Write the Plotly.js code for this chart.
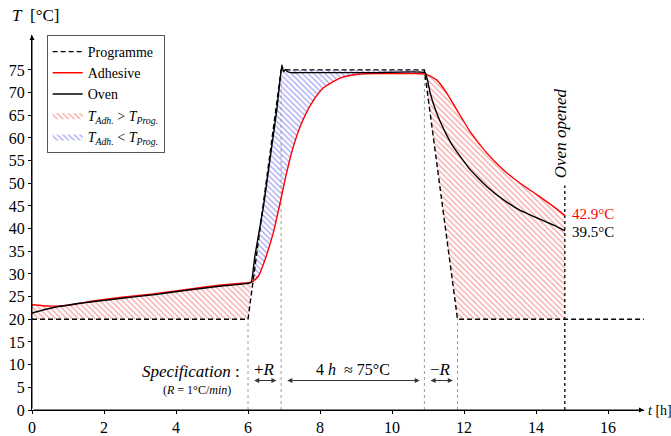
<!DOCTYPE html>
<html>
<head>
<meta charset="utf-8">
<script src="https://cdn.plot.ly/plotly-3.0.1.min.js"></script>
<style>html,body{margin:0;padding:0;background:#fff}#chart{width:671px;height:436px}</style>
</head>
<body>
<div id="chart"></div>
<script>
// ---- data ----
const progT = [0, 6, 6.92, 10.9, 11.82, 17];
const progV = [20, 20, 75, 75, 20, 20];

const adhT = [0, 0.3, 0.6, 1.0, 1.5, 2.44, 3.36, 4.3, 5.2, 6.0, 6.1, 6.29, 6.47, 6.7, 6.89, 7.07, 7.26, 7.49, 7.77, 8.09, 8.56, 9.11, 9.67, 10.3, 10.92, 11.24, 11.52, 11.8, 12.17, 12.63, 13.09, 13.56, 14.02, 14.48, 14.8];
const adhV = [23.2, 23.0, 22.9, 23.1, 23.8, 24.8, 25.6, 26.6, 27.5, 28.1, 28.2, 29.5, 33.1, 39.0, 45.6, 52.2, 58.1, 63.3, 67.7, 71.0, 73.2, 74.1, 74.2, 74.2, 74.1, 72.8, 69.9, 66.2, 61.4, 56.7, 53.0, 50.0, 47.5, 44.9, 42.9];

const ovenT = [0, 0.6, 1.5, 2.44, 3.36, 4.3, 5.2, 6.05, 6.1, 6.19, 6.43, 6.61, 6.8, 6.94, 6.99, 7.04, 7.1, 7.2, 7.5, 8.5, 9.5, 10.92, 11.06, 11.24, 11.47, 11.7, 12.17, 12.63, 13.09, 13.56, 14.02, 14.48, 14.8];
const ovenV = [21.4, 22.6, 23.7, 24.6, 25.4, 26.4, 27.3, 28.0, 28.4, 33.9, 44.9, 55.2, 66.2, 76.1, 74.6, 75.1, 74.6, 74.4, 74.4, 74.4, 74.4, 74.4, 69.9, 65.5, 61.4, 58.1, 53.0, 49.3, 46.4, 44.0, 42.4, 40.8, 39.5];

const ovenOpened = 14.8;
const xTicks = [0, 2, 4, 6, 8, 10, 12, 14, 16];
const yTicks = [0, 5, 10, 15, 20, 25, 30, 35, 40, 45, 50, 55, 60, 65, 70, 75];

// ---- build fill polygons from the data ----
function seg(ts, vs, a, b) {
  const x = [], y = [];
  for (let i = 0; i < ts.length; i++) if (ts[i] >= a && ts[i] <= b) { x.push(ts[i]); y.push(vs[i]); }
  return {x, y};
}
const crossUp = 6.1, crossDown = 10.92;
const r1 = seg(adhT, adhV, 0, crossUp);
r1.x.push(progT[1], progT[0]); r1.y.push(progV[1], progV[0]);
const b1 = seg(adhT, adhV, crossUp, crossDown);
b1.x.push(progT[3], progT[2]); b1.y.push(progV[3], progV[2]);
const r2 = seg(adhT, adhV, crossDown, ovenOpened);
r2.x.push(ovenOpened, progT[4], progT[3]); r2.y.push(progV[5], progV[4], progV[3]);

const F = "Liberation Serif";
const redPat = {shape: '\\', size: 4, solidity: 0.3, fgcolor: 'rgba(242,120,120,0.7)', bgcolor: 'rgba(255,255,255,0)'};
const bluePat = {shape: '\\', size: 4, solidity: 0.3, fgcolor: 'rgba(120,120,238,0.7)', bgcolor: 'rgba(255,255,255,0)'};

const traces = [
  {x: r1.x, y: r1.y, type: 'scatter', mode: 'lines', fill: 'toself', fillcolor: 'rgba(255,255,255,0)', fillpattern: redPat, line: {width: 0}, name: '<i>T</i><sub><i>Adh.</i></sub> > <i>T</i><sub><i>Prog.</i></sub>', legendrank: 4, hoverinfo: 'skip'},
  {x: r2.x, y: r2.y, type: 'scatter', mode: 'lines', fill: 'toself', fillcolor: 'rgba(255,255,255,0)', fillpattern: redPat, line: {width: 0}, showlegend: false, hoverinfo: 'skip'},
  {x: b1.x, y: b1.y, type: 'scatter', mode: 'lines', fill: 'toself', fillcolor: 'rgba(255,255,255,0)', fillpattern: bluePat, line: {width: 0}, name: '<i>T</i><sub><i>Adh.</i></sub> < <i>T</i><sub><i>Prog.</i></sub>', legendrank: 5, hoverinfo: 'skip'}
];
for (let i = 1; i <= 4; i++) {
  traces.push({x: [progT[i], progT[i]], y: [0, progV[i]], type: 'scatter', mode: 'lines', line: {color: '#9a9a9a', width: 1, dash: 'dot'}, showlegend: false, hoverinfo: 'skip'});
}
traces.push({x: [ovenOpened, ovenOpened], y: [0, 49.5], type: 'scatter', mode: 'lines', line: {color: '#222', width: 1.5, dash: 'dot'}, showlegend: false, hoverinfo: 'skip'});
traces.push({x: progT, y: progV, type: 'scatter', mode: 'lines', name: 'Programme', line: {color: '#000', width: 1.4, dash: '5px,3px'}, legendrank: 1});
traces.push({x: adhT, y: adhV, type: 'scatter', mode: 'lines', name: 'Adhesive', line: {color: '#ff0000', width: 1.4, shape: 'spline', smoothing: 0.6}, legendrank: 2});
traces.push({x: ovenT, y: ovenV, type: 'scatter', mode: 'lines', name: 'Oven', line: {color: '#000', width: 1.4, shape: 'spline', smoothing: 0.3}, legendrank: 3});

function dblArrow(a, b, y) {
  return {x: b, y: y, ax: a, ay: y, xref: 'x', yref: 'y', axref: 'x', ayref: 'y', text: '', showarrow: true,
    arrowhead: 2, startarrowhead: 2, arrowside: 'end+start', arrowsize: 1, startarrowsize: 1, arrowwidth: 1, arrowcolor: '#333'};
}
const arrowY = 6.5, labY = 9.0, gap = 0.13;
const annotations = [
  {x: 17.0, y: 0, ax: 0, ay: 0, xref: 'x', yref: 'y', axref: 'x', ayref: 'y', text: '', showarrow: true, arrowhead: 2, arrowsize: 1, arrowwidth: 1, arrowcolor: '#000'},
  {x: 0, y: 82.7, ax: 0, ay: 0, xref: 'x', yref: 'y', axref: 'x', ayref: 'y', text: '', showarrow: true, arrowhead: 2, arrowsize: 1, arrowwidth: 1, arrowcolor: '#000'},
  {xref: 'paper', yref: 'paper', x: -0.036, y: 1.053, xanchor: 'left', yanchor: 'middle', text: '<i>T</i>  [°C]', showarrow: false, font: {family: F, size: 17}},
  {xref: 'paper', yref: 'paper', x: 1.0, xshift: 2, y: 0, xanchor: 'left', yanchor: 'middle', text: '<i>t</i> [h]', showarrow: false, font: {family: F, size: 14}},
  dblArrow(progT[1] + gap, progT[2] - gap, arrowY),
  dblArrow(progT[2] + gap, progT[3] - gap, arrowY),
  dblArrow(progT[3] + gap, progT[4] - gap, arrowY),
  {x: (progT[1] + progT[2]) / 2, y: labY, text: '+<i>R</i>', showarrow: false, font: {family: F, size: 17}},
  {x: (progT[2] + progT[3]) / 2, y: labY, text: '4 <i>h</i>  ≈ 75°C', showarrow: false, font: {family: F, size: 16}},
  {x: (progT[3] + progT[4]) / 2, y: labY, text: '−<i>R</i>', showarrow: false, font: {family: F, size: 17}},
  {x: 5.83, y: 8.6, xanchor: 'right', text: '<i>Specification</i> :', showarrow: false, font: {family: F, size: 17}},
  {x: 5.58, y: 4.5, xanchor: 'right', text: '(<i>R</i> = 1°C/<i>min</i>)', showarrow: false, font: {family: F, size: 12}},
  {x: ovenOpened, y: 61, xshift: -4, text: '<i>Oven opened</i>', textangle: -90, showarrow: false, font: {family: F, size: 17}},
  {x: ovenOpened, y: adhV[adhV.length - 1], xshift: 5, yshift: 1, xanchor: 'left', text: adhV[adhV.length - 1].toFixed(1) + '°C', showarrow: false, font: {family: F, size: 15, color: '#ff0000'}},
  {x: ovenOpened, y: ovenV[ovenV.length - 1], xshift: 5, yshift: -1, xanchor: 'left', text: ovenV[ovenV.length - 1].toFixed(1) + '°C', showarrow: false, font: {family: F, size: 15, color: '#000'}}
];

const layout = {
  width: 671, height: 436,
  margin: {l: 32, r: 27, t: 35, b: 26},
  paper_bgcolor: '#fff', plot_bgcolor: '#fff',
  font: {family: F, size: 16, color: '#000'},
  showlegend: true,
  legend: {x: 0.024, y: 1.0, xanchor: 'left', yanchor: 'top', bgcolor: '#fff', bordercolor: '#555', borderwidth: 1,
    font: {family: F, size: 14}, tracegroupgap: 0, itemwidth: 30},
  xaxis: {range: [0, 17], tickvals: xTicks, ticktext: xTicks.map(String), showgrid: false, zeroline: false, showline: true,
    linecolor: '#000', linewidth: 1, ticks: 'outside', ticklen: 3, tickcolor: '#000', automargin: false, fixedrange: true,
    tickfont: {family: F, size: 16}},
  yaxis: {range: [0, 82.7], tickvals: yTicks, ticktext: yTicks.map(String), showgrid: false, zeroline: false, showline: true,
    linecolor: '#000', linewidth: 1, ticks: 'outside', ticklen: 3, tickcolor: '#000', automargin: false, fixedrange: true,
    tickfont: {family: F, size: 16}},
  annotations: annotations
};

Plotly.newPlot('chart', traces, layout, {displayModeBar: false, staticPlot: true});
</script>
</body>
</html>
